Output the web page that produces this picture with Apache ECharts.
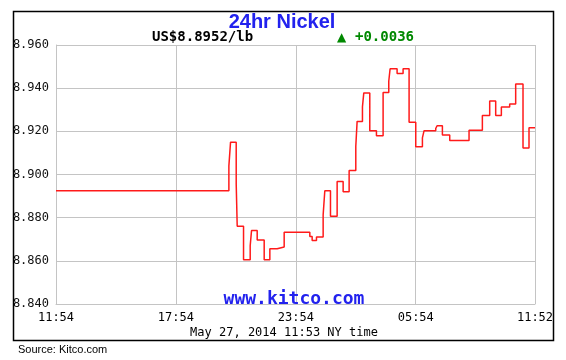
<!DOCTYPE html>
<html>
<head>
<meta charset="utf-8">
<script src="https://cdn.jsdelivr.net/npm/echarts@6/dist/echarts.min.js"></script>
<style>
html,body{margin:0;padding:0;background:#fff;}
#chart{width:566px;height:360px;}
</style>
</head>
<body>
<div id="chart"></div>
<script>
// Minutes elapsed since 11:54 (start of the 24h window) at which each price level begins
var timeOffsets = [0, 519, 524, 541, 544, 563, 583, 587, 604, 625, 642, 664, 685, 762, 769, 782,
  802, 807, 824, 844, 862, 880, 900, 904, 920, 924, 942, 962, 982, 999, 1003, 1024, 1042, 1060,
  1080, 1100, 1105, 1140, 1144, 1160, 1182, 1240, 1280, 1302, 1320, 1337, 1362, 1380, 1402, 1420, 1438];
var prices = [8.8925, 8.904, 8.915, 8.8956, 8.876, 8.8605, 8.867, 8.874, 8.8696, 8.8605, 8.8656, 8.8664, 8.8733, 8.8713, 8.8694, 8.8711,
  8.8813, 8.8925, 8.8806, 8.8968, 8.892, 8.9018, 8.913, 8.9246, 8.9313, 8.9378, 8.9203, 8.918, 8.938, 8.9432, 8.949, 8.9468, 8.949, 8.9242,
  8.9128, 8.917, 8.9203, 8.9213, 8.9226, 8.9183, 8.9158, 8.9205, 8.9273, 8.934, 8.9273, 8.9313, 8.9327, 8.9419, 8.9123, 8.9217, 8.9217];
var startClock = 11 * 60 + 54;
var windowMinutes = 1438;
var yTicks = [8.84, 8.86, 8.88, 8.90, 8.92, 8.94, 8.96];

var titleText = '24hr Nickel';
var priceText = 'US$8.8952/lb';
var changeText = '+0.0036';
var dateText = 'May 27, 2014 11:53 NY time';
var watermark = 'www.kitco.com';
var sourceText = 'Source: Kitco.com';

function clockLabel(v) {
  var t = (startClock + Math.round(v)) % 1440;
  var h = Math.floor(t / 60), m = t % 60;
  return (h < 10 ? '0' : '') + h + ':' + (m < 10 ? '0' : '') + m;
}

var seriesData = timeOffsets.map(function (t, i) { return [t, prices[i]]; });
var mono = '"DejaVu Sans Mono", "Liberation Mono", monospace';
var gridColor = '#c4c4c4';

var chart = echarts.init(document.getElementById('chart'), null, {renderer: 'canvas'});
chart.setOption({
  animation: false,
  backgroundColor: '#ffffff',
  grid: {left: 56, right: 31, top: 45, bottom: 56, containLabel: false},
  xAxis: {
    type: 'value', min: 0, max: windowMinutes, interval: 360,
    axisLine: {show: true, lineStyle: {color: gridColor, width: 1}},
    axisTick: {show: false},
    splitLine: {show: true, lineStyle: {color: gridColor, width: 1}},
    axisLabel: {
      formatter: clockLabel, color: '#000', fontFamily: mono, fontSize: 12,
      margin: 8, showMinLabel: true, showMaxLabel: true
    }
  },
  yAxis: {
    type: 'value', min: yTicks[0], max: yTicks[yTicks.length - 1], interval: 0.02,
    axisLine: {show: true, lineStyle: {color: gridColor, width: 1}},
    axisTick: {show: false},
    splitLine: {show: true, lineStyle: {color: gridColor, width: 1}},
    axisLabel: {
      formatter: function (v) { return v.toFixed(3); },
      color: '#111', fontFamily: mono, fontSize: 12, margin: 7
    }
  },
  series: [{
    type: 'line', step: 'end', symbol: 'none', data: seriesData,
    lineStyle: {color: '#ff1a1a', width: 1.5}
  }],
  graphic: [
    {type: 'rect', shape: {x: 13.5, y: 11.5, width: 540, height: 329}, style: {fill: 'none', stroke: '#000', lineWidth: 1.5}, z: 100},
    {type: 'text', x: 282, y: 22.5, style: {text: titleText, fill: '#2222ee', font: 'bold 20px "Liberation Sans", Arial, sans-serif', textAlign: 'center', textVerticalAlign: 'middle'}, z: 100},
    {type: 'text', x: 152, y: 37, style: {text: priceText, fill: '#000', font: 'bold 14px ' + mono, textAlign: 'left', textVerticalAlign: 'middle'}, z: 100},
    {type: 'text', x: 337, y: 37.5, style: {text: '\u25B2', fill: '#008800', font: '12px "DejaVu Sans", sans-serif', textAlign: 'left', textVerticalAlign: 'middle'}, z: 100},
    {type: 'text', x: 355, y: 37, style: {text: changeText, fill: '#008800', font: 'bold 14px ' + mono, textAlign: 'left', textVerticalAlign: 'middle'}, z: 100},
    {type: 'text', x: 294, y: 299, style: {text: watermark, fill: '#2222ee', font: 'bold 18px ' + mono, textAlign: 'center', textVerticalAlign: 'middle'}, z: 100},
    {type: 'text', x: 284, y: 332.5, style: {text: dateText, fill: '#000', font: '12px ' + mono, textAlign: 'center', textVerticalAlign: 'middle'}, z: 100},
    {type: 'text', x: 18, y: 350, style: {text: sourceText, fill: '#000', font: '11px "Liberation Sans", Arial, sans-serif', textAlign: 'left', textVerticalAlign: 'middle'}, z: 100}
  ]
});
</script>
</body>
</html>
